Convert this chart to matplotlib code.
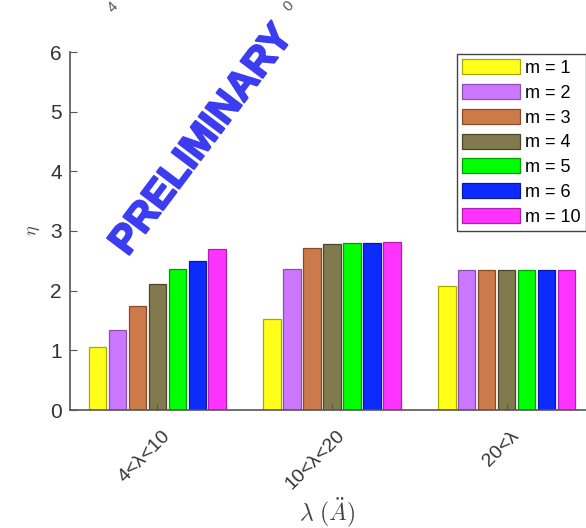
import numpy as np
import matplotlib
matplotlib.use("Agg")
import matplotlib.pyplot as plt
import matplotlib.patheffects as pe
import matplotlib.transforms as mtransforms

# ---------------------------
# Data
# ---------------------------
groups = ["4<λ<10", "10<λ<20", "20<λ"]
series_labels = ["m = 1", "m = 2", "m = 3", "m = 4", "m = 5", "m = 6", "m = 10"]

eta_m1 = [1.05, 1.52, 2.08]
eta_m2 = [1.34, 2.36, 2.35]
eta_m3 = [1.74, 2.72, 2.35]
eta_m4 = [2.11, 2.79, 2.35]
eta_m5 = [2.36, 2.80, 2.35]
eta_m6 = [2.50, 2.80, 2.35]
eta_m10 = [2.69, 2.82, 2.35]

series = [eta_m1, eta_m2, eta_m3, eta_m4, eta_m5, eta_m6, eta_m10]

face_colors = ["#ffff1a", "#cc77ff", "#cc7a4a", "#807a4e", "#00ff00", "#0d2bff", "#ff33ff"]
edge_colors = ["#a8a800", "#8a4fb0", "#8a4a28", "#4a4630", "#00a000", "#0a1aa0", "#b020b0"]

plt.rcParams["font.family"] = ["Liberation Sans", "DejaVu Sans"]
plt.rcParams["mathtext.fontset"] = "cm"

fig = plt.figure(figsize=(5.86, 5.28), dpi=100)
ax = fig.add_axes([70 / 586, 118 / 528, 524 / 586, 358 / 528])

x = np.arange(1, len(groups) + 1)
n = len(series)
pitch = 0.8 / n
width = 0.1
for i, vals in enumerate(series):
    offs = (i - (n - 1) / 2) * pitch
    ax.bar(x + offs, vals, width=width, color=face_colors[i],
           edgecolor=edge_colors[i], linewidth=0.9, label=series_labels[i])

ax.set_xlim(0.5, 3.5)
ax.set_ylim(0, 6)
ax.set_yticks(range(0, 7))
ax.set_xticks(x)
ax.set_xticklabels([])

# rotated group labels, placed like the original (slightly right of the tick)
offset = mtransforms.ScaledTranslation(4 / 100, -17 / 100, fig.dpi_scale_trans)
for xi, g in zip(x, groups):
    ax.text(xi, 0, g, transform=ax.get_xaxis_transform() + offset,
            rotation=45, ha="right", va="top", rotation_mode="anchor",
            fontsize=14, color="#333333")

ax.tick_params(axis="y", direction="in", length=5, labelsize=15,
               labelcolor="#333333", color="#555555", pad=6)
ax.tick_params(axis="x", direction="in", length=4, color="#555555")

for side in ["top", "right"]:
    ax.spines[side].set_visible(False)
for side in ["left", "bottom"]:
    ax.spines[side].set_color("#555555")
    ax.spines[side].set_linewidth(1.2)

ax.set_ylabel(r"$\eta$", fontsize=13, color="#444444")
ax.yaxis.set_label_coords(-0.054, 0.5)
ax.set_xlabel(r"$\lambda\ (\ddot{A})$", fontsize=17, color="#444444")
ax.xaxis.set_label_coords(0.49, -0.238)

leg = ax.legend(loc="upper left", bbox_to_anchor=(457 / 586, 1 - 54 / 528),
                bbox_transform=fig.transFigure, fontsize=13, borderaxespad=0,
                handlelength=3.2, handleheight=0.9, handletextpad=0.28,
                labelspacing=0.39, borderpad=0.3, fancybox=False,
                framealpha=1, edgecolor="#444444")
leg.get_frame().set_linewidth(1.0)

# watermark
fig.text(202 / 586, 1 - 140 / 528, "PRELIMINARY", rotation=53,
         ha="center", va="center", fontsize=29, fontweight="bold",
         color="#3c3cf0",
         path_effects=[pe.withStroke(linewidth=1.5, foreground="#3c3cf0")])

# fragments of the chart above, cut off at the top
fig.text(113 / 586, 1 - 7 / 528, "4", rotation=45, ha="center", va="center",
         fontsize=11, color="#555555")
fig.text(289 / 586, 1 - 6 / 528, "0", rotation=45, ha="center", va="center",
         fontsize=11, color="#555555")

fig.savefig("out.png", dpi=100)
